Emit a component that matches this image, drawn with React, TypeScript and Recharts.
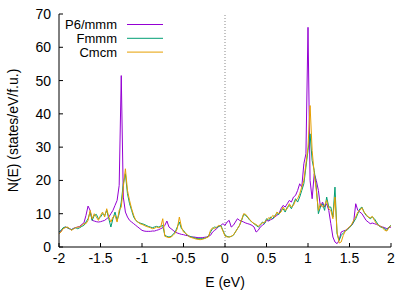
import React from 'react';
import { LineChart, Line, XAxis, YAxis, ReferenceLine, Legend } from 'recharts';

// Energy grid (eV)
const energies = [
  -2, -1.975, -1.95, -1.925, -1.9, -1.875, -1.85, -1.825, -1.8, -1.775,
  -1.75, -1.725, -1.7, -1.675, -1.65, -1.625, -1.6, -1.575, -1.55, -1.525,
  -1.5, -1.475, -1.45, -1.425, -1.4, -1.375, -1.35, -1.325, -1.3, -1.275,
  -1.25, -1.225, -1.2, -1.175, -1.15, -1.125, -1.1, -1.075, -1.05, -1.025,
  -1, -0.975, -0.95, -0.925, -0.9, -0.875, -0.85, -0.825, -0.8, -0.775,
  -0.75, -0.725, -0.7, -0.675, -0.65, -0.625, -0.6, -0.575, -0.55, -0.525,
  -0.5, -0.475, -0.45, -0.425, -0.4, -0.375, -0.35, -0.325, -0.3, -0.275,
  -0.25, -0.225, -0.2, -0.175, -0.15, -0.125, -0.1, -0.075, -0.05, -0.025,
  0, 0.025, 0.05, 0.075, 0.1, 0.125, 0.15, 0.175, 0.2, 0.225,
  0.25, 0.275, 0.3, 0.325, 0.35, 0.375, 0.4, 0.425, 0.45, 0.475,
  0.5, 0.525, 0.55, 0.575, 0.6, 0.625, 0.65, 0.675, 0.7, 0.725,
  0.75, 0.775, 0.8, 0.825, 0.85, 0.875, 0.9, 0.925, 0.95, 0.975,
  1, 1.025, 1.05, 1.075, 1.1, 1.125, 1.15, 1.175, 1.2, 1.225,
  1.25, 1.275, 1.3, 1.325, 1.35, 1.375, 1.4, 1.425, 1.45, 1.475,
  1.5, 1.525, 1.55, 1.575, 1.6, 1.625, 1.65, 1.675, 1.7, 1.725,
  1.75, 1.775, 1.8, 1.825, 1.85, 1.875, 1.9, 1.925, 1.95, 1.975,
  2,
];

const p6mmm = [
  4.5, 4.8, 5.5, 6.0, 5.8, 5.5, 5.2, 5.6, 5.8, 6.0,
  6.2, 6.8, 7.2, 9.5, 12.3, 11.0, 8.0, 7.8, 7.6, 7.5,
  7.6, 7.8, 8.0, 8.5, 9.0, 10.0, 11.0, 12.5, 14.0, 18.5,
  51.5, 15.0, 10.5, 9.0, 8.0, 7.5, 7.0, 6.5, 6.0, 5.5,
  5.0, 4.8, 4.7, 4.7, 4.7, 4.8, 4.8, 5.0, 5.2, 5.5,
  5.8, 6.5, 7.8, 6.0, 5.5, 5.0, 4.5, 4.2, 4.0, 3.8,
  3.7, 3.5, 3.4, 3.2, 3.0, 3.0, 2.9, 2.8, 2.8, 2.8,
  2.9, 3.0, 3.2, 3.5, 4.5, 5.0, 5.5, 6.2, 6.5, 7.0,
  6.5, 7.5, 8.0, 6.0, 6.5, 7.5, 8.5, 8.0, 7.8, 7.5,
  7.2, 7.0, 6.8, 6.5, 6.0, 4.5, 5.0, 6.0, 6.5, 7.0,
  8.0, 7.8, 8.2, 8.5, 9.0, 9.5, 10.0, 11.5, 12.5, 12.0,
  13.0, 14.0, 13.5, 15.0, 15.5, 17.0, 19.0, 18.0, 25.0, 28.0,
  66.0, 20.0, 14.5, 22.0, 20.0, 17.0, 12.0, 13.5, 12.0, 13.0,
  11.0, 7.0, 3.0, 1.5, 1.0, 2.0, 4.5, 4.8, 5.0, 5.5,
  6.0, 6.5, 7.5, 13.0, 11.0, 10.5, 10.0, 9.0, 8.0, 7.5,
  7.0, 7.2, 7.0, 6.8, 6.5, 6.2, 6.0, 5.8, 5.5, 5.8,
  6.0,
];

const fmmm = [
  4.5, 5.0, 5.8, 6.0, 5.8, 5.5, 5.2, 5.5, 5.8, 5.5,
  5.8, 6.2, 6.5, 7.5, 8.5, 10.5, 8.0, 9.5, 9.8, 8.5,
  9.0, 10.0, 9.5, 11.0, 8.5, 6.0, 8.5, 10.5, 8.0, 10.0,
  13.5, 19.0, 22.0, 16.0, 13.0, 11.0, 9.0, 8.0, 7.5, 7.2,
  7.0, 6.8, 6.5, 6.2, 6.0, 5.8, 6.0, 6.2, 6.0, 6.2,
  6.5, 3.5, 3.2, 3.0, 3.2, 3.8, 4.5, 6.0, 7.5, 5.5,
  5.0, 4.0, 3.5, 3.2, 3.0, 2.8, 2.6, 2.5, 2.5, 2.5,
  2.6, 2.8, 3.2, 4.5, 5.5, 6.0, 5.8, 6.2, 6.5, 5.0,
  3.5, 3.2, 3.0, 3.2, 3.5, 4.5, 5.5, 6.5, 8.0, 9.8,
  9.5, 8.8, 8.0, 7.5, 7.0, 6.5, 6.0, 6.5, 7.5, 7.0,
  8.5, 8.0, 9.0, 8.5, 9.5, 10.0, 9.8, 11.0, 11.5, 10.5,
  12.0, 12.5, 11.5, 13.0, 14.5, 13.5, 15.0, 17.0, 19.0, 24.0,
  29.0, 34.0, 26.0, 23.0, 18.0, 10.0, 12.0, 13.0, 11.0, 15.0,
  12.0, 12.0, 9.0, 18.0, 4.0, 2.0, 3.5, 4.2, 4.8, 5.2,
  5.8, 6.5, 7.5, 8.5, 10.0, 11.5, 12.0, 10.5, 9.5, 9.0,
  8.5, 9.0, 8.5, 7.5, 6.5, 6.0, 5.8, 5.5, 5.0, 6.0,
  6.5,
];

const cmcm = [
  4.0, 4.5, 5.5, 5.8, 6.0, 5.6, 5.0, 5.4, 5.8, 6.0,
  6.0, 6.5, 7.0, 7.0, 8.0, 11.0, 8.5, 10.0, 9.0, 8.0,
  9.5, 10.5, 9.0, 11.5, 9.0, 7.5, 9.0, 9.5, 7.5, 11.0,
  12.0, 18.0, 23.5, 17.0, 14.0, 11.5, 9.5, 8.0, 7.5, 7.0,
  6.8, 6.5, 6.2, 6.0, 5.8, 5.5, 5.6, 6.0, 5.8, 6.0,
  8.5, 3.2, 3.0, 2.8, 3.0, 3.5, 4.2, 5.5, 9.0, 6.0,
  4.5, 4.2, 3.5, 3.0, 2.8, 2.6, 2.4, 2.3, 2.2, 2.3,
  2.5, 2.8, 3.0, 5.0, 5.8, 5.5, 6.0, 6.5, 6.2, 4.8,
  3.3, 3.0, 3.0, 3.2, 3.6, 4.5, 5.5, 6.5, 8.2, 10.0,
  9.8, 9.0, 8.2, 7.5, 7.0, 6.8, 6.2, 6.8, 7.2, 7.5,
  8.0, 8.8, 8.5, 9.5, 9.0, 10.5, 10.0, 10.5, 12.0, 11.0,
  11.5, 13.0, 12.0, 12.5, 14.0, 14.5, 16.0, 18.0, 20.0, 25.0,
  30.0, 42.5, 29.0, 22.0, 17.0, 11.0, 13.0, 12.0, 12.5, 14.0,
  11.5, 11.0, 8.5, 15.0, 4.5, 1.2, 1.5, 3.5, 4.8, 5.5,
  6.0, 6.8, 8.0, 9.0, 10.5, 11.0, 11.8, 10.5, 9.8, 9.0,
  8.8, 9.2, 8.0, 7.0, 6.5, 6.2, 5.8, 5.0, 4.8, 5.8,
  6.5,
];

const xTicks = [-2, -1.5, -1, -0.5, 0, 0.5, 1, 1.5, 2];
const yTicks = [0, 10, 20, 30, 40, 50, 60, 70];
const seriesNames = ['P6/mmm', 'Fmmm', 'Cmcm'];
const seriesKeys = ['p6', 'fm', 'cm'];
const seriesColors = ['#9400d3', '#009e73', '#e69f00'];

const data = energies.map((e, i) => ({ E: e, p6: p6mmm[i], fm: fmmm[i], cm: cmcm[i] }));

const FONT = '"Liberation Sans", Arial, sans-serif';
const tickStyle = { fontSize: 14, fill: '#000', fontFamily: FONT };

const renderLegend = () => (
  <svg width={110} height={46} style={{ display: 'block' }}>
    {seriesNames.map((name, i) => (
      <g key={name}>
        <text
          x={57}
          y={10.5 + i * 13.8}
          textAnchor="end"
          dominantBaseline="central"
          fontSize={13}
          fontFamily={FONT}
          fill="#000"
        >
          {name}
        </text>
        <line x1={67} x2={103} y1={10.5 + i * 13.8} y2={10.5 + i * 13.8} stroke={seriesColors[i]} strokeWidth={1} />
      </g>
    ))}
  </svg>
);

export default function App() {
  return (
    <div style={{ position: 'absolute', left: 0, top: 0, width: 415, height: 291, background: '#fff' }}>
      <LineChart
        width={415}
        height={291}
        data={data}
        margin={{ top: 14, right: 24, bottom: 0, left: 0 }}
        style={{ fontFamily: FONT }}
      >
        <XAxis
          xAxisId="b"
          dataKey="E"
          type="number"
          domain={[-2, 2]}
          ticks={xTicks}
          allowDataOverflow
          height={44}
          tickSize={-4}
          tickMargin={10}
          tick={tickStyle}
          stroke="#000"
          axisLine={{ stroke: '#000', strokeWidth: 1 }}
          tickLine={{ stroke: '#000' }}
          label={{ value: 'E (eV)', position: 'insideBottom', offset: 4, style: { fontSize: 14, fill: '#000', fontFamily: FONT } }}
        />
        <XAxis
          xAxisId="t"
          orientation="top"
          dataKey="E"
          type="number"
          domain={[-2, 2]}
          ticks={xTicks}
          allowDataOverflow
          height={0}
          tickSize={-4}
          tick={false}
          axisLine={{ stroke: '#000', strokeWidth: 1 }}
          tickLine={{ stroke: '#000' }}
        />
        <YAxis
          yAxisId="l"
          type="number"
          domain={[0, 70]}
          ticks={yTicks}
          allowDataOverflow
          width={59}
          tickSize={-4}
          tickMargin={12}
          tick={tickStyle}
          axisLine={{ stroke: '#000', strokeWidth: 1 }}
          tickLine={{ stroke: '#000' }}
          label={{
            value: 'N(E) (states/eV/f.u.)',
            angle: -90,
            position: 'insideLeft',
            offset: 13,
            style: { textAnchor: 'middle', fontSize: 14, fill: '#000', fontFamily: FONT },
          }}
        />
        <YAxis
          yAxisId="r"
          orientation="right"
          type="number"
          domain={[0, 70]}
          ticks={yTicks}
          allowDataOverflow
          width={0}
          tickSize={-4}
          tick={false}
          axisLine={{ stroke: '#000', strokeWidth: 1 }}
          tickLine={{ stroke: '#000' }}
        />
        <ReferenceLine xAxisId="b" yAxisId="l" x={0} stroke="#888" strokeWidth={1} strokeDasharray="1 2" />
        {seriesKeys.map((k, i) => (
          <Line
            key={k}
            xAxisId="b"
            yAxisId="l"
            type="linear"
            dataKey={k}
            name={seriesNames[i]}
            stroke={seriesColors[i]}
            strokeWidth={1}
            dot={false}
            activeDot={false}
            isAnimationActive={false}
          />
        ))}
        <Legend
          verticalAlign="middle"
          align="center"
          layout="horizontal"
          wrapperStyle={{ top: 14, left: 60, width: 110, height: 46 }}
          content={renderLegend}
        />
      </LineChart>
    </div>
  );
}
